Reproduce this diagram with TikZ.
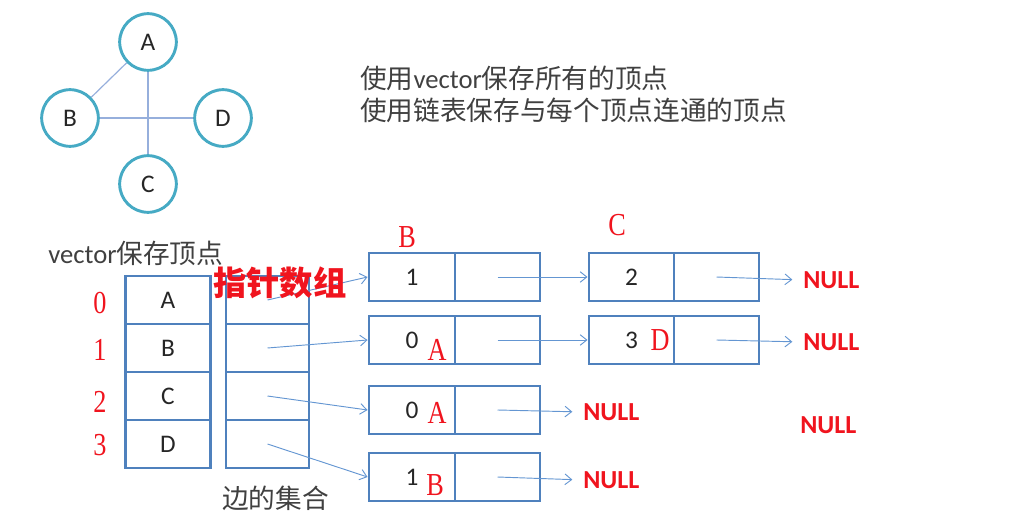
\documentclass[tikz,border=0pt]{standalone}
\usepackage{fontspec}
\setmainfont{Carlito}
\newfontfamily\cjk{Noto Sans CJK SC}
\newfontfamily\rserif[FakeStretch=0.82]{Liberation Serif}
\usetikzlibrary{arrows.meta}
\definecolor{teal1}{RGB}{70,170,196}
\definecolor{boxblue}{RGB}{79,129,189}
\definecolor{arrblue}{RGB}{100,150,210}
\definecolor{edgeblue}{RGB}{150,175,220}
\definecolor{txtgray}{RGB}{64,64,64}
\definecolor{nullred}{RGB}{240,20,30}
\begin{document}
\begin{tikzpicture}[x=0.75pt,y=-0.75pt,
  vnode/.style={circle,draw=teal1,line width=2.2pt,minimum size=42.5pt,inner sep=0pt,font=\fontsize{19}{20}\selectfont,text=black!85},
  cell/.style={rectangle,draw=boxblue,line width=2.2pt,minimum height=36pt,inner sep=0pt,font=\fontsize{19}{20}\selectfont,text=black!85},
  ptr/.style={-{Straight Barb[length=5pt,width=8pt]},draw=arrblue,line width=0.7pt},
  gedge/.style={draw=edgeblue,line width=0.9pt},
  nullt/.style={font=\fontsize{19.5}{20}\bfseries\selectfont,text=nullred,inner sep=0pt},
  redl/.style={font=\rserif\fontsize{24}{26}\selectfont,text=nullred,inner sep=0pt},
  cjkt/.style={font=\cjk\fontsize{20}{24}\selectfont,text=txtgray,inner sep=0pt,anchor=west}]
\useasboundingbox (0,0) rectangle (1014,524);
% graph
\node[vnode] (A) at (148,42) {A};
\node[vnode] (B) at (70,118) {B};
\node[vnode] (D) at (223,118) {D};
\node[vnode] (C) at (148,184) {C};
\draw[gedge] (A) -- (B);
\draw[gedge] (A) -- (C);
\draw[gedge] (B) -- (D);
% description
\node[cjkt] (t1) at (360,78) {使用{\fontspec{Carlito}vector}保存所有的顶点};
\node[cjkt] (t2) at (360,110) {使用链表保存与每个顶点连通的顶点};
\node[cjkt] (t3) at (48,253) {{\fontspec{Carlito}vector}保存顶点};
\node[cjkt] (t4) at (222,498) {边的集合};
% vector
\foreach \i/\l/\y in {0/A/300,1/B/348,2/C/396,3/D/444}{
  \node[cell,minimum width=63.75pt] (v\i) at (168,\y) {\l};
  \node[cell,minimum width=62.25pt] (p\i) at (267.5,\y) {};
}
\node[redl] (i0) at (100,303) {0};
\node[redl] (i1) at (100,350) {1};
\node[redl] (i2) at (100,402) {2};
\node[redl] (i3) at (100,445) {3};
% list nodes column 1
\foreach \i/\d/\y in {0/1/277,1/0/340,2/0/410,3/1/477}{
  \node[cell,minimum width=64.5pt] (a\i) at (412,\y) {\d};
  \node[cell,minimum width=63.75pt] (b\i) at (497.5,\y) {};
}
% list nodes column 2
\foreach \i/\d/\y in {0/2/277,1/3/340}{
  \node[cell,minimum width=63.75pt] (c\i) at (631.5,\y) {\d};
  \node[cell,minimum width=63.75pt] (e\i) at (716.5,\y) {};
}
% pointer arrows
\foreach \i in {0,1,2,3}{ \draw[ptr] (p\i.center) -- (a\i.west); }
\draw[ptr] (b0.center) -- (c0.west);
\draw[ptr] (b1.center) -- (c1.west);
\node[nullt,anchor=west] (n2) at (583,412) {NULL};
\node[nullt,anchor=west] (n3) at (583,480) {NULL};
\node[nullt,anchor=west] (n0) at (803,280) {NULL};
\node[nullt,anchor=west] (n1) at (803,342) {NULL};
\node[nullt,anchor=west] (n4) at (800,425) {NULL};
\draw[ptr,shorten >=8pt] (b2.center) -- (n2.west);
\draw[ptr,shorten >=8pt] (b3.center) -- (n3.west);
\draw[ptr,shorten >=8pt] (e0.center) -- (n0.west);
\draw[ptr,shorten >=8pt] (e1.center) -- (n1.west);
% red labels
\node[redl] (lB) at (407,237) {B};
\node[redl] (lC) at (617,225) {C};
\node[redl] (lA1) at (437,350) {A};
\node[redl] (lA2) at (437,413) {A};
\node[redl] (lB2) at (435,485) {B};
\node[redl] (lD) at (660,340) {D};
\node[font=\cjk\fontsize{25}{27}\bfseries\selectfont,text=nullred,inner sep=0pt,anchor=west] (ptrs) at (213,283) {指针数组};
\end{tikzpicture}
\end{document}
